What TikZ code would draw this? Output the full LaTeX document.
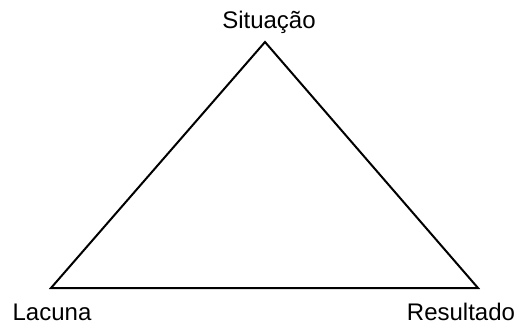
\documentclass[tikz,border=0pt]{standalone}
\usepackage{fontspec}
\setmainfont{Liberation Sans}
\begin{document}
\begin{tikzpicture}[x=1pt,y=-1pt,
  lbl/.style={anchor=base,inner sep=0pt,font=\fontsize{24}{28}\selectfont},
  tri/.style={line width=2pt,line join=miter}]
\useasboundingbox (0,0) rectangle (517,327);
\coordinate (top) at (265,42);
\coordinate (bl) at (51,288);
\coordinate (br) at (478,288);
\draw[tri] (top) -- (br) -- (bl) -- cycle;
\node[lbl] (sit) at (269,28) {Situação};
\node[lbl] (lac) at (52,320) {Lacuna};
\node[lbl] (res) at (461,320) {Resultado};
\end{tikzpicture}
\end{document}
